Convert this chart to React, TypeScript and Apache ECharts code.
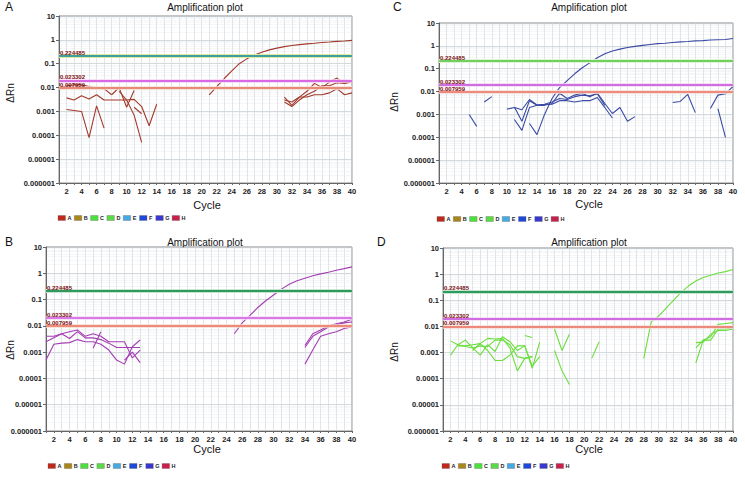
import React, { useEffect, useRef } from "react";
import * as echarts from "echarts";

type Curve = { start: number; v: number[] };

// ---------- DATA ----------
const PANEL_LETTERS = ["A", "B", "C", "D"];
const PLOT_TITLE = "Amplification plot";
const X_NAME = "Cycle";
const Y_NAME = "\u0394Rn";
const Y_TICK_LABELS = ["0.000001", "0.00001", "0.0001", "0.001", "0.01", "0.1", "1", "10"];
const X_MIN = 1;
const X_MAX = 40;
const LEGEND_NAMES = ["A", "B", "C", "D", "E", "F", "G", "H"];
const LEGEND_COLORS = ["#c0281c", "#a8861c", "#4ce03c", "#5cd848", "#48a8e0", "#2048d8", "#3838d0", "#c8204c"];
const THRESHOLDS = [0.224485, 0.023302, 0.007959];
const THRESHOLD_LABELS = ["0.224485", "0.023302", "0.007959"];

const CURVES_A: Curve[] = [
  { start: 21, v: [0.005, 0.011, 0.024, 0.05, 0.1, 0.16, 0.23, 0.3, 0.38, 0.45, 0.52, 0.58, 0.63, 0.68, 0.72, 0.77, 0.81, 0.86, 0.9, 0.95] },
  { start: 2, v: [0.012, 0.013, 0.013, 0.011, 0.0095, 0.009, 0.005] },
  { start: 2, v: [0.0037, 0.003, 0.0045, 0.0033, 0.005, 0.003, 0.003, 0.003, 0.003, 0.0032, 0.0016, 0.00025, 0.002] },
  { start: 2, v: [0.0012, 0.0011, 0.001, 0.00008, 0.0017, 0.0002] },
  { start: 8, v: [0.005, 0.01, 0.0015, 0.0075] },
  { start: 9, v: [0.007, 0.003, 0.0007, 0.00005] },
  { start: 11, v: [0.0015, 0.0008] },
  { start: 31, v: [0.004, 0.0018, 0.004, 0.007, 0.015, 0.01, 0.017, 0.025, 0.015, 0.02] },
  { start: 31, v: [0.0025, 0.0016, 0.003, 0.005, 0.007, 0.012, 0.012, 0.016, 0.015, 0.017] },
  { start: 31, v: [0.003, 0.0025, 0.004, 0.004, 0.005, 0.005, 0.006, 0.009, 0.005, 0.006] },
];

const CURVES_B: Curve[] = [
  { start: 25, v: [0.005, 0.013, 0.025, 0.05, 0.09, 0.15, 0.25, 0.38, 0.52, 0.65, 0.8, 0.95, 1.1, 1.3, 1.5, 1.75] },
  { start: 1, v: [0.0005, 0.002, 0.0022, 0.0023, 0.003, 0.0025, 0.0025, 0.002, 0.0012, 0.0005, 0.00035, 0.0016, 0.0029] },
  { start: 1, v: [0.0025, 0.0035, 0.005, 0.0033, 0.006, 0.0035, 0.0035, 0.003, 0.0022, 0.0015, 0.0015, 0.0015, 0.0015] },
  { start: 1, v: [0.004, 0.004, 0.005, 0.006, 0.007, 0.004, 0.005, 0.004, 0.0025, 0.0025, 0.0025, 0.0006, 0.0012] },
  { start: 7, v: [0.0014, 0.006] },
  { start: 11, v: [0.0005, 0.001, 0.0004] },
  { start: 34, v: [0.0018, 0.005, 0.007, 0.01, 0.012, 0.014, 0.018] },
  { start: 34, v: [0.0015, 0.004, 0.006, 0.009, 0.011, 0.013, 0.014] },
  { start: 34, v: [0.00035, 0.0012, 0.004, 0.005, 0.006, 0.008, 0.009] },
];

const CURVES_C: Curve[] = [
  { start: 13, v: [0.0004, 0.00013, 0.001, 0.005, 0.015, 0.03, 0.06, 0.11, 0.18, 0.3, 0.45, 0.6, 0.72, 0.85, 0.95, 1.05, 1.15, 1.25, 1.3, 1.4, 1.5, 1.55, 1.65, 1.7, 1.8, 1.85, 1.9, 2.1] },
  { start: 5, v: [0.001, 0.0003] },
  { start: 7, v: [0.0035, 0.006] },
  { start: 10, v: [0.0017, 0.002, 0.0016, 0.0045, 0.0026, 0.0027, 0.0028, 0.004, 0.004, 0.0035, 0.004, 0.004, 0.0055, 0.002, 0.0007] },
  { start: 11, v: [0.0006, 0.0002, 0.002, 0.0025, 0.0025, 0.003, 0.0085, 0.005, 0.007, 0.0085, 0.006, 0.0085, 0.003, 0.0011, 0.002, 0.0005, 0.0008] },
  { start: 11, v: [0.0021, 0.0005, 0.004, 0.0025, 0.0028, 0.0035, 0.005, 0.0045, 0.006, 0.007, 0.0065, 0.008, 0.0025] },
  { start: 32, v: [0.0033, 0.0037, 0.0075, 0.0012] },
  { start: 37, v: [0.0018, 0.007, 0.008, 0.017] },
  { start: 38, v: [0.0018, 0.0001] },
];

const CURVES_D: Curve[] = [
  { start: 28, v: [0.0006, 0.015, 0.025, 0.05, 0.1, 0.2, 0.35, 0.55, 0.75, 0.9, 1.1, 1.25, 1.5] },
  { start: 2, v: [0.0028, 0.002, 0.0017, 0.0015, 0.0018, 0.0017, 0.003, 0.003, 0.002, 0.0007, 0.0006, 0.0007] },
  { start: 2, v: [0.0008, 0.002, 0.003, 0.0015, 0.0008, 0.002, 0.0011, 0.004, 0.0026, 0.0012, 0.0018, 0.0003, 0.0007] },
  { start: 3, v: [0.0018, 0.0018, 0.002, 0.0022, 0.0012, 0.0005, 0.0005, 0.0008, 0.0018, 0.0018, 0.00025, 0.0025] },
  { start: 5, v: [0.0012, 0.0022, 0.0035, 0.0033, 0.0035, 0.0015, 0.0002, 0.0006, 0.0007] },
  { start: 12, v: [0.0045, 0.0038] },
  { start: 16, v: [0.008, 0.0012, 0.005] },
  { start: 16, v: [0.0012, 0.0002, 0.00006] },
  { start: 21, v: [0.0006, 0.0026] },
  { start: 35, v: [0.0015, 0.003, 0.004, 0.012, 0.013, 0.014] },
  { start: 35, v: [0.0004, 0.003, 0.003, 0.008, 0.008, 0.009] },
  { start: 35, v: [0.0024, 0.0025, 0.005, 0.007, 0.007, 0.008] },
];

const PANEL_CURVES = [CURVES_A, CURVES_B, CURVES_C, CURVES_D];

// ---------- LAYOUT / STYLE ----------
const LAYOUT = [
  { grid: { left: 59, top: 16, width: 293, height: 167 }, letter: [5, 8], title: [205, 7], xname: [207, 205], yname: [10, 93], legend: [58, 218] },
  { grid: { left: 46, top: 247, width: 306, height: 184 }, letter: [5, 243], title: [205, 242], xname: [207, 449], yname: [10, 350], legend: [48, 466] },
  { grid: { left: 439, top: 23, width: 294, height: 160 }, letter: [393, 8], title: [589, 7], xname: [589, 204], yname: [394, 102], legend: [437, 219] },
  { grid: { left: 443, top: 248, width: 290, height: 183 }, letter: [377, 243], title: [589, 242], xname: [589, 449], yname: [394, 352], legend: [442, 466] },
];
const LEGEND_STEP = 16.3;
const CURVE_COLORS = ["#a3392b", "#a43fb3", "#3a4aa3", "#6ade3c"];
const THRESH_STYLES = [
  [
    { color: "#3e9ea2", halo: "#dcec9c" },
    { color: "#cf44dc", halo: "#f6d6f6" },
    { color: "#e0705a", halo: "#f8dcd0" },
  ],
  [
    { color: "#2f9a5e", halo: "#c4e4cf" },
    { color: "#cf5ae0", halo: "#f6d8f8" },
    { color: "#e8705a", halo: "#f9dcd2" },
  ],
  [
    { color: "#72d05f", halo: "#dcf3d6" },
    { color: "#c44ad8", halo: "#f3d6f6" },
    { color: "#e87262", halo: "#f9dcd4" },
  ],
  [
    { color: "#2f9a5e", halo: "#c4e4cf" },
    { color: "#c44ad8", halo: "#f3d6f6" },
    { color: "#e86e5c", halo: "#f9dcd4" },
  ],
];
const FONT = "Arial, 'Liberation Sans', Helvetica, sans-serif";

function yLabel(v: number): string {
  const e = Math.round(Math.log10(v));
  return Y_TICK_LABELS[e + 6] ?? "";
}

function buildOption() {
  const grid: any[] = [];
  const xAxis: any[] = [];
  const yAxis: any[] = [];
  const series: any[] = [];
  const graphic: any[] = [];

  LAYOUT.forEach((L, i) => {
    grid.push({ ...L.grid, show: true, borderColor: "#8a8a8a", borderWidth: 1, backgroundColor: "#ffffff" });
    xAxis.push({
      type: "value",
      gridIndex: i,
      min: X_MIN,
      max: X_MAX,
      interval: 1,
      axisLine: { show: true, lineStyle: { color: "#666" } },
      axisTick: { show: true, length: 2, lineStyle: { color: "#666" } },
      axisLabel: {
        show: true,
        margin: 4,
        fontSize: 7.5,
        fontWeight: "bold",
        fontFamily: FONT,
        color: "#222",
        formatter: (v: number) => (v % 2 === 0 ? String(v) : ""),
      },
      splitLine: { show: true, lineStyle: { color: "#d0d5da", width: 0.6 } },
    });
    yAxis.push({
      type: "log",
      logBase: 10,
      gridIndex: i,
      min: 0.000001,
      max: 10,
      splitNumber: 7,
      axisLine: { show: true, lineStyle: { color: "#666" } },
      axisTick: { show: true, length: 3, lineStyle: { color: "#666" } },
      axisLabel: {
        margin: 4,
        fontSize: 7.5,
        fontWeight: "bold",
        fontFamily: FONT,
        color: "#222",
        formatter: yLabel,
      },
      splitLine: { show: true, lineStyle: { color: "#c2c8ce", width: 0.7 } },
      minorTick: { show: false, splitNumber: 8 },
      minorSplitLine: { show: true, lineStyle: { color: "#dde2e7", width: 0.6, type: "dotted" } },
    });

    // thresholds
    THRESHOLDS.forEach((t, j) => {
      const st = THRESH_STYLES[i][j];
      series.push({
        type: "line",
        xAxisIndex: i,
        yAxisIndex: i,
        data: [],
        silent: true,
        z: 1,
        markLine: {
          silent: true,
          symbol: ["none", "none"],
          animation: false,
          data: [{ yAxis: t }],
          lineStyle: { color: st.halo, width: j === 0 ? 4 : 3.5, type: "solid" },
          label: { show: false },
        },
      });
      series.push({
        type: "line",
        xAxisIndex: i,
        yAxisIndex: i,
        data: [],
        silent: true,
        z: 2,
        markLine: {
          silent: true,
          symbol: ["none", "none"],
          animation: false,
          data: [{ yAxis: t }],
          lineStyle: { color: st.color, width: j === 0 ? 2.2 : 1.5, type: "solid" },
          label: {
            show: true,
            position: "insideStartTop",
            distance: [1, 0],
            formatter: THRESHOLD_LABELS[j],
            fontSize: 6,
            fontWeight: "bold",
            fontFamily: FONT,
            color: "#7a0f14",
          },
        },
      });
    });

    PANEL_CURVES[i].forEach((c) => {
      series.push({
        type: "line",
        xAxisIndex: i,
        yAxisIndex: i,
        data: c.v.map((y, k) => [c.start + k, y]),
        symbol: "none",
        showSymbol: false,
        silent: true,
        z: 3,
        lineStyle: { color: CURVE_COLORS[i], width: 1.1 },
      });
    });

    // texts
    graphic.push({
      type: "text",
      left: L.letter[0],
      top: L.letter[1] - 7,
      style: { text: PANEL_LETTERS[i], fontSize: 12, fontFamily: FONT, fill: "#111" },
    });
    graphic.push({
      type: "text",
      x: L.title[0],
      y: L.title[1],
      style: { text: PLOT_TITLE, fontSize: 10, fontFamily: FONT, fill: "#111", align: "center", verticalAlign: "middle" },
    });
    graphic.push({
      type: "text",
      x: L.xname[0],
      y: L.xname[1],
      style: { text: X_NAME, fontSize: 11, fontFamily: FONT, fill: "#111", align: "center", verticalAlign: "middle" },
    });
    graphic.push({
      type: "text",
      x: L.yname[0],
      y: L.yname[1],
      rotation: Math.PI / 2,
      style: { text: Y_NAME, fontSize: 10, fontFamily: FONT, fill: "#111", align: "center", verticalAlign: "middle" },
    });
    LEGEND_NAMES.forEach((n, k) => {
      const x0 = L.legend[0] + k * LEGEND_STEP;
      graphic.push({
        type: "rect",
        shape: { x: x0, y: L.legend[1] - 2.5, width: 7.5, height: 5 },
        style: { fill: LEGEND_COLORS[k], stroke: "#555", lineWidth: 0.3 },
      });
      graphic.push({
        type: "text",
        x: x0 + 9.5,
        y: L.legend[1],
        style: { text: n, fontSize: 5.5, fontWeight: "bold", fontFamily: FONT, fill: "#222", verticalAlign: "middle" },
      });
    });
  });

  return { animation: false, backgroundColor: "#ffffff", grid, xAxis, yAxis, series, graphic };
}

export default function App() {
  const ref = useRef<HTMLDivElement>(null);
  useEffect(() => {
    document.body.style.margin = "0";
    if (!ref.current) return;
    const chart = echarts.init(ref.current, undefined, { renderer: "svg" });
    chart.setOption(buildOption() as any);
    return () => chart.dispose();
  }, []);
  return <div ref={ref} style={{ width: 745, height: 481 }} />;
}
